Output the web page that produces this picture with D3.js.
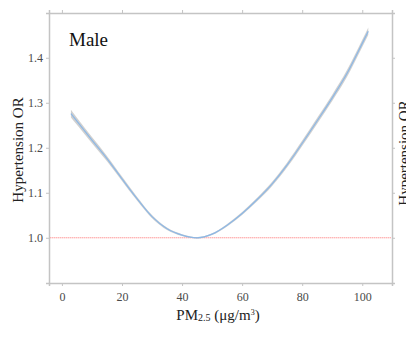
<!DOCTYPE html>
<html><head><meta charset="utf-8">
<script src="https://cdn.jsdelivr.net/npm/d3@7/dist/d3.min.js"></script>
<style>html,body{margin:0;padding:0;background:#fff;overflow:hidden}svg{display:block}</style>
</head><body>
<script>
const pm25 = [3, 5, 10, 15, 20, 25, 30, 35, 40, 45, 50, 55, 60, 65, 70, 75, 80, 85, 90, 95, 100, 102];
const orValues = [1.276, 1.259, 1.217, 1.176, 1.131, 1.087, 1.047, 1.020, 1.006, 1.000, 1.008, 1.028, 1.054, 1.085, 1.120, 1.162, 1.210, 1.260, 1.311, 1.366, 1.432, 1.459];
const ciHalf = [0.007, 0.0065, 0.0055, 0.0045, 0.0035, 0.0028, 0.002, 0.0012, 0.0006, 0.0002, 0.0006, 0.0012, 0.002, 0.0026, 0.0032, 0.0038, 0.0044, 0.005, 0.0056, 0.0062, 0.0068, 0.007];
const xTicks = [0, 20, 40, 60, 80, 100];
const yTicks = [1.0, 1.1, 1.2, 1.3, 1.4];
const refOR = 1.0;
const panelLabel = "Male";
const yLabel = "Hypertension OR";

const W = 406, H = 339;
const m = {left: 49, right: 14, top: 13, bottom: 56};
const svg = d3.select("body").append("svg").attr("width", W).attr("height", H);
const x = d3.scaleLinear().domain([-4.3, 109.9]).range([m.left, W - m.right]);
const y = d3.scaleLinear().domain([0.8995, 1.4995]).range([H - m.bottom, m.top]);
const data = pm25.map((d, i) => ({x: d, y: orValues[i], lo: orValues[i] - ciHalf[i], hi: orValues[i] + ciHalf[i]}));

const axisColor = "#c4c4c4";
const font = "'Liberation Serif', 'Times New Roman', serif";

function styleAxis(g) {
  g.selectAll(".domain").attr("stroke", axisColor).attr("stroke-width", 1.5);
  g.selectAll(".tick line").attr("stroke", axisColor).attr("stroke-width", 1);
  g.selectAll(".tick text").attr("fill", "#4a4a4a").style("font-family", font).style("font-size", "12px");
}

svg.append("g").attr("transform", `translate(0,${H - m.bottom})`)
  .call(d3.axisBottom(x).tickValues(xTicks).tickSize(3).tickPadding(6).tickFormat(d3.format("d")))
  .call(styleAxis);
svg.append("g").attr("transform", `translate(0,${m.top})`)
  .call(d3.axisTop(x).tickValues(xTicks).tickSize(3).tickFormat(""))
  .call(styleAxis);
svg.append("g").attr("transform", `translate(${m.left},0)`)
  .call(d3.axisLeft(y).tickValues(yTicks).tickSize(3).tickPadding(3).tickFormat(d3.format(".1f")))
  .call(styleAxis);
svg.append("g").attr("transform", `translate(${W - m.right},0)`)
  .call(d3.axisRight(y).tickValues(yTicks).tickSize(3).tickFormat(""))
  .call(styleAxis);

// reference line
svg.append("line")
  .attr("x1", x.range()[0] + 1).attr("x2", x.range()[1] - 1)
  .attr("y1", y(refOR)).attr("y2", y(refOR))
  .attr("stroke", "#ff9a9a").attr("stroke-width", 1).attr("stroke-dasharray", "1.5,0.5");

// CI band
svg.append("path").datum(data)
  .attr("d", d3.area().x(d => x(d.x)).y0(d => y(d.lo - 0.0015)).y1(d => y(d.hi + 0.0015)).curve(d3.curveMonotoneX))
  .attr("fill", "#b0b0b0").attr("opacity", 0.6);

// fitted line
svg.append("path").datum(data)
  .attr("d", d3.line().x(d => x(d.x)).y(d => y(d.y)).curve(d3.curveMonotoneX))
  .attr("fill", "none").attr("stroke", "#8db8e6").attr("stroke-width", 1.2);

// panel label
svg.append("text").attr("x", 69).attr("y", 46).text(panelLabel)
  .style("font-family", font).style("font-size", "19px").attr("fill", "#111");

// y labels
svg.append("text").attr("transform", "translate(23,150) rotate(-90)").attr("text-anchor", "middle")
  .text(yLabel).style("font-family", font).style("font-size", "15px").attr("fill", "#222");
svg.append("text").attr("transform", "translate(409,153) rotate(-90)").attr("text-anchor", "middle")
  .text(yLabel).style("font-family", font).style("font-size", "15px").attr("fill", "#222");

// x label
const xl = svg.append("text").attr("x", 218).attr("y", 320).attr("text-anchor", "middle")
  .style("font-family", font).style("font-size", "15px").attr("fill", "#222");
xl.append("tspan").text("PM");
xl.append("tspan").text("2.5").style("font-size", "10px").attr("dy", 1);
xl.append("tspan").text(" (μg/m").attr("dy", -1);
xl.append("tspan").text("3").style("font-size", "8px").attr("dy", -5);
xl.append("tspan").text(")").attr("dy", 5);
</script>
</body></html>
